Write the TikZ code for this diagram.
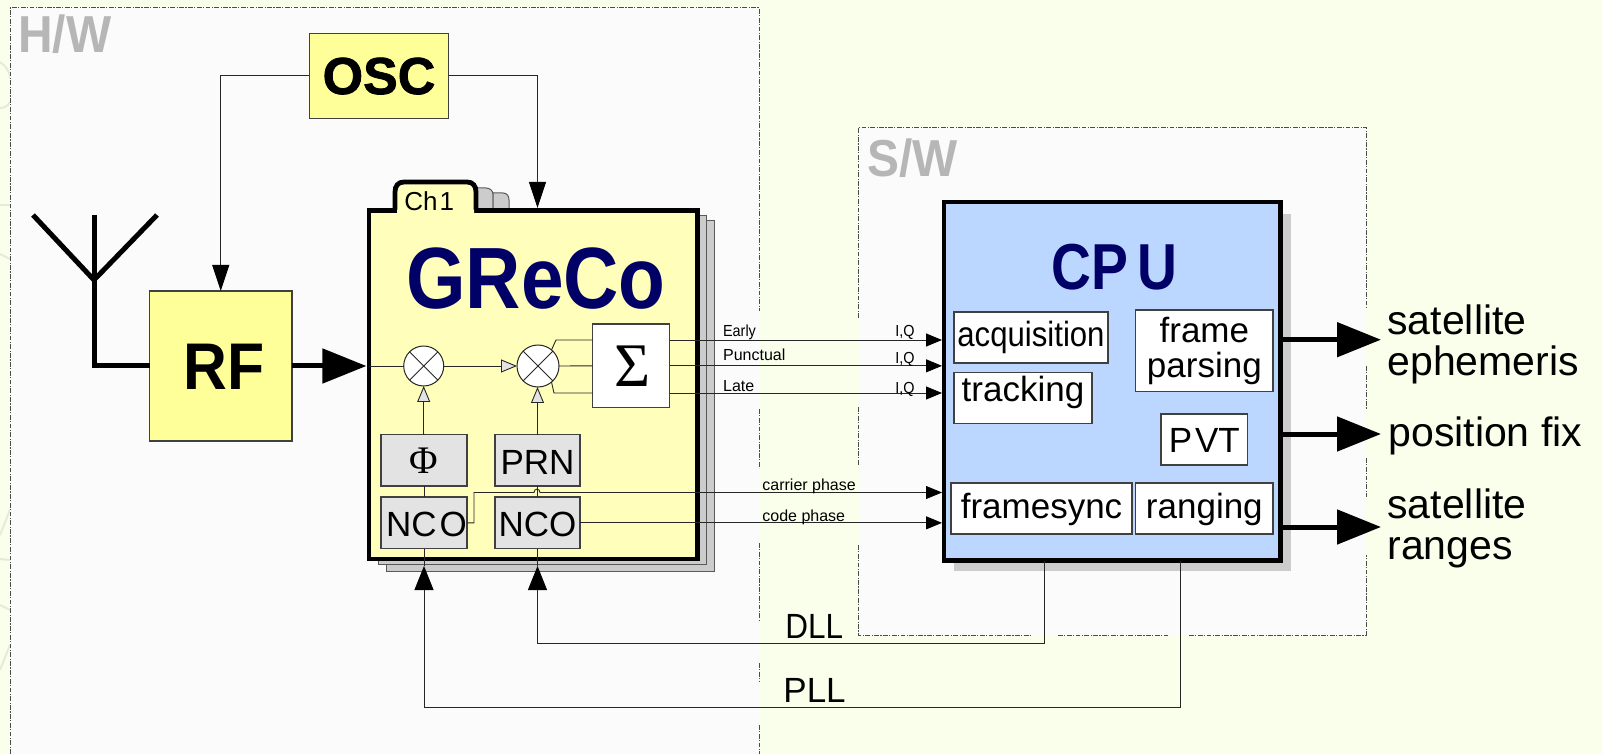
\documentclass[tikz,border=0pt]{standalone}
\usepackage{fontspec}
\usepackage{graphicx}
\usetikzlibrary{arrows.meta}
\setmainfont{Liberation Sans}
\newfontfamily\symfont{Liberation Serif}
\newfontfamily\heavyfont[FakeBold=1.5]{Liberation Sans Bold}
\definecolor{pagebg}{HTML}{F9FFEB}
\definecolor{zonebg}{HTML}{FBFBFB}
\definecolor{rfyel}{HTML}{FFFF99}
\definecolor{chyel}{HTML}{FFFFBB}
\definecolor{lgray}{HTML}{E3E3E3}
\definecolor{pgray}{HTML}{CCCCCC}
\definecolor{cpublue}{HTML}{BBD6FF}
\definecolor{navy}{HTML}{000066}
\definecolor{zonelabel}{HTML}{B6B6B6}
\definecolor{wire}{HTML}{262626}
\definecolor{faint}{HTML}{E6E9DC}
\newcommand\sz[1]{\fontsize{#1pt}{#1pt}\selectfont}
\tikzset{
  zoneline/.style={draw=black!70,line width=.5pt,dash pattern=on 2.4pt off .7pt on .6pt off .7pt},
  wirel/.style={draw=wire,line width=.45pt},
  thickl/.style={draw=black,line width=2.5pt},
  box/.style={rectangle,inner sep=0pt,outer sep=0pt,draw=black!75,line width=.55pt,align=center},
  whitebox/.style={box,fill=white,font=\sz{17.5}},
  graybox/.style={box,fill=lgray,font=\sz{17.5}},
  yelbox/.style={box,fill=rfyel},
  tinytext/.style={inner sep=0pt,anchor=base west,font=\sz{8}},
  biglabel/.style={inner sep=0pt,anchor=base west,font=\sz{20.5}},
  stacklabel/.style={inner sep=0pt,anchor=north west,align=left,font=\sz{20.5}},
  looplabel/.style={inner sep=0pt,anchor=base west,font=\sz{17.5}},
  zonetext/.style={inner sep=0pt,anchor=base west,font=\bfseries\sz{26},text=zonelabel},
  bigtip/.tip={Triangle[length=22pt,width=17pt,color=black]},
  midtip/.tip={Triangle[length=13pt,width=8.5pt,color=black]},
  fbtip/.tip={Triangle[length=12pt,width=9.5pt,color=black]},
  smalltip/.tip={Triangle[length=8pt,width=6.5pt,color=black]},
  graytip/.tip={Triangle[length=8pt,width=6.5pt,fill=lgray]},
  mixer/.style={circle,draw=wire,fill=white,line width=.5pt,inner sep=0pt,outer sep=0pt},
}
\begin{document}
\begin{tikzpicture}[x=.5pt,y=-.5pt]
\useasboundingbox (0,0) rectangle (1602,754);
\fill[pagebg] (0,0) rectangle (1602,754);
% faint marks in the margin
\draw[faint,line width=1pt] (0,62) .. controls (6,66) and (10,72) .. (10,78);
\draw[faint,line width=1pt] (0,108) .. controls (4,108) and (8,106) .. (10,102);
\draw[faint,line width=1pt] (0,205) -- (10,205);
\draw[faint,line width=1pt] (0,254) -- (10,259);
\draw[faint,line width=1pt] (0,535) -- (10,510);
\draw[faint,line width=1pt] (0,559) -- (10,560);
\draw[faint,line width=1pt] (0,605) -- (10,610);
\draw[faint,line width=1pt] (0,670) -- (10,645);
% zones
\fill[zonebg] (10,8) rectangle (759,754);
\fill[zonebg] (858.5,127.5) rectangle (1366,635);
\draw[zoneline] (10,754) -- (10,8) -- (759,8) -- (759,311);
\draw[zoneline] (759,409) -- (759,468);
\draw[zoneline] (759,543) -- (759,621);
\draw[zoneline] (759,663) -- (759,682);
\draw[zoneline] (759,725) -- (759,754);
\draw[zoneline] (858.5,318) -- (858.5,127.5) -- (1366,127.5) -- (1366,308);
\draw[zoneline] (858.5,407) -- (858.5,465);
\draw[zoneline] (858.5,545) -- (858.5,635) -- (1032,635);
\draw[zoneline] (1058,635) -- (1169.5,635);
\draw[zoneline] (1189,635) -- (1366,635) -- (1366,555);
\draw[zoneline] (1366,366) -- (1366,409);
\draw[zoneline] (1366,458) -- (1366,497);
\node[zonetext] (hwlabel) at (18,53) {\scalebox{.92}[1]{H/W}};
\node[zonetext] (swlabel) at (867,176.5) {\scalebox{.92}[1]{S/W}};

% antenna
\coordinate (anttop) at (94,215);
\coordinate (antl) at (33,215);
\coordinate (antr) at (157,215);
\coordinate (antfoot) at (94,280);
\coordinate (antcorner) at (94,366);

% RF and OSC
\node[yelbox,minimum width=71.25pt,minimum height=75pt,text height=24pt,text depth=0pt] (rf) at (220.75,366)
  {\kern3pt\bfseries\sz{33}\scalebox{.92}[1]{RF}};
\node[yelbox,minimum width=69.7pt,minimum height=42.5pt,text height=18.2pt,text depth=0pt] (osc) at (379,75.8)
  {\heavyfont\sz{26}OSC};
\draw[thickl,line cap=butt] (antl) -- (antfoot) -- (antr);
\draw[thickl] (anttop) -- (antcorner) -- (rf.west);

% channel pages
\fill[pgray,draw=black!65,line width=.5pt] (476,212) -- (476,188) -- (486,188) .. controls (490,188) and (493,191) .. (493,194) -- (493,212) -- cycle;
\fill[pgray,draw=black!65,line width=.5pt] (493,212) -- (493,193) -- (503,193) .. controls (507,193) and (509,196) .. (509,200) -- (509,212) -- cycle;
\node[box,draw=black!65,line width=.5pt,fill=pgray,minimum width=164pt,minimum height=175.15pt] (page3) at (550,395.85) {};
\node[box,draw=black!65,line width=.5pt,fill=pgray,minimum width=164.35pt,minimum height=174.15pt] (page2) at (542.35,389.85) {};
\node[box,draw=black,line width=2.4pt,fill=chyel,minimum width=164.35pt,minimum height=174.15pt] (greco) at (533.35,384.85) {};
\fill[chyel] (397,214) -- (397,191) -- (403,184) -- (468,184) -- (474,191) -- (474,214) -- cycle;
\draw[black,line width=2.4pt] (395,209.6) -- (395,192) .. controls (395,186) and (398,182) .. (404,182) -- (467,182) .. controls (473,182) and (476,186) .. (476,192) -- (476,209.6);
\node[inner sep=0pt,anchor=base west,font=\sz{13}] (chlabel) at (404,211) {Ch\kern1pt 1};
\node[inner sep=0pt,anchor=base,font=\bfseries\sz{43.5},text=navy] (grecotitle) at (536,309) {\scalebox{.88}[1]{GReCo}};

% channel contents
\node[mixer,minimum size=20pt] (m1) at (423.7,366) {};
\node[mixer,minimum size=21pt] (m2) at (538,366) {};
\foreach \m in {m1,m2}{
  \draw[wirel] (\m.45) -- (\m.225);
  \draw[wirel] (\m.135) -- (\m.315);
}
\node[whitebox,minimum width=38.5pt,minimum height=41.85pt,font=\symfont\sz{31}] (sigma) at (631.2,365.85) {\kern1pt Σ};
\node[graybox,minimum width=43pt,minimum height=25.65pt,font=\symfont\sz{19.5}] (phi) at (424,460.35) {Φ};
\node[graybox,minimum width=42.5pt,minimum height=25.65pt,text height=14pt,text depth=0pt] (prn) at (537.5,460.35) {PRN};
\node[graybox,minimum width=43pt,minimum height=25.85pt,text height=14pt,text depth=0pt] (ncoa) at (424,522.85) {\makebox[0pt]{\kern2.5pt NC\kern1.5pt O}};
\node[graybox,minimum width=42.5pt,minimum height=25.85pt,text height=14pt,text depth=0pt] (ncob) at (537.5,522.85) {NCO};

\draw[wirel] (phi.south) -- (ncoa.north);
\draw[wirel,-{graytip}] (phi.north) -- (phi.north -| m1) -- (m1.south);
\draw[wirel] (prn.south) -- (ncob.north);
\draw[wirel,-{graytip}] (prn.north) -- (prn.north |- m2.south);
\draw[wirel,-{graytip}] (m1.east) -- (m2.west);
\draw[wirel] (m2.east) -- (sigma.west);
\coordinate (yearly) at (600,340);
\coordinate (ylate) at (600,393);
\coordinate (ycarrier) at (800,492.5);
\coordinate (yfb) at (800,643);
\coordinate (ypl) at (800,707);
\draw[wirel] (m2.50) -- (556,340) -- (sigma.west |- yearly);
\draw[wirel] (m2.-50) -- (554,393) -- (sigma.west |- ylate);
\draw[thickl,shorten >=1.3pt,-{bigtip}] (rf.east) -- (rf.east -| greco.west);
\draw[wirel] (rf.east -| greco.west) -- (m1.west);

% CPU
\fill[pgray] (954,214) rectangle (1291,570.7);
\node[box,draw=black,line width=2.4pt,fill=cpublue,minimum width=168.35pt,minimum height=179.35pt] (cpu) at (1112.35,381.35) {};
\node[inner sep=0pt,anchor=base,font=\bfseries\sz{32.5},text=navy] (cputitle) at (1114.5,290) {\scalebox{.85}[1]{CP\kern5pt U}};
\node[whitebox,minimum width=77pt,minimum height=25.5pt,text height=9.2pt,text depth=0pt] (acq) at (1031,337.5) {\scalebox{.89}[1]{acquisition}};
\node[whitebox,minimum width=69pt,minimum height=25.5pt,text height=3.5pt,text depth=0pt] (trk) at (1023,398.2) {tracking};
\node[whitebox,minimum width=68.65pt,minimum height=40.85pt] (frm) at (1204.35,350.85) {\baselineskip=14.4pt frame\\parsing};
\node[whitebox,minimum width=43.35pt,minimum height=25.5pt,text height=12.5pt,text depth=0pt] (pvt) at (1204.35,439.5) {P\kern1.5pt VT};
\node[whitebox,minimum width=90.5pt,minimum height=25.5pt,text height=9.5pt,text depth=0pt] (fsy) at (1041.5,508.5) {framesync};
\node[whitebox,minimum width=68.65pt,minimum height=25.5pt,text height=9.5pt,text depth=0pt] (rng) at (1204.35,508.5) {ranging};

% OSC feeds
\coordinate (oscin) at (537.5,208);
\draw[wirel,-{midtip}] (osc.west) -- (osc.west -| rf.north) -- (rf.north);
\draw[wirel,-{midtip}] (osc.east) -- (osc.east -| oscin) -- (oscin);

% I,Q links
\draw[wirel,shorten >=1pt,-{smalltip}] (sigma.east |- yearly) -- (cpu.west |- yearly);
\draw[wirel,shorten >=1pt,-{smalltip}] (sigma.east) -- (cpu.west |- sigma.east);
\draw[wirel,shorten >=1pt,-{smalltip}] (sigma.east |- ylate) -- (cpu.west |- ylate);
\node[tinytext] (early) at (722.7,336.7) {\scalebox{.9}[1]{Early}};
\node[tinytext] (punct) at (722.7,361) {Punctual};
\node[tinytext] (late) at (722.7,392) {Late};
\node[tinytext] (iqa) at (895,336.7) {\scalebox{.9}[1]{I,Q}};
\node[tinytext] (iqb) at (895,363.3) {\scalebox{.9}[1]{I,Q}};
\node[tinytext] (iqc) at (895,393.3) {\scalebox{.9}[1]{I,Q}};

% phase links
\draw[wirel,shorten >=1pt,-{smalltip}] (ncoa.east) -- ++(7,0) -- (474,492.5) -- (534,492.5) .. controls (534,488) and (540,488) .. (540,492.5) -- (cpu.west |- ycarrier);
\draw[wirel,shorten >=1pt,-{smalltip}] (ncob.east) -- (cpu.west |- ncob.east);
\node[tinytext] (carrier) at (762,490) {carrier phase};
\node[tinytext] (code) at (762,521) {code phase};

% feedback loops
\coordinate (tipa) at (424,566);
\coordinate (tipb) at (537.5,566);
\coordinate (tapd) at (1044,560.7);
\coordinate (tapp) at (1180,560.7);
\draw[wirel] (ncoa.south) -- (tipa);
\draw[wirel] (ncob.south) -- (tipb);
\draw[wirel,-{fbtip}] (tapd) -- (tapd |- yfb) -- (tipb |- yfb) -- (tipb);
\draw[wirel,-{fbtip}] (tapp) -- (tapp |- ypl) -- (tipa |- ypl) -- (tipa);
\node[looplabel] (dll) at (785,638) {\scalebox{.9}[1]{DLL}};
\node[looplabel] (pll) at (783,702) {PLL};

% outputs
\coordinate (outa) at (1381,339.7);
\coordinate (outb) at (1381,434);
\coordinate (outc) at (1381,527);
\draw[thickl,-{bigtip}] (cpu.east |- outa) -- (outa);
\draw[thickl,-{bigtip}] (cpu.east |- outb) -- (outb);
\draw[thickl,-{bigtip}] (cpu.east |- outc) -- (outc);
\node[stacklabel] (sata) at (1387,304) {\baselineskip=16.5pt satellite\\ephemeris};
\node[biglabel] (pos) at (1388,446) {position fix};
\node[stacklabel] (satb) at (1387,488) {\baselineskip=19.85pt satellite\\ranges};
\end{tikzpicture}
\end{document}
